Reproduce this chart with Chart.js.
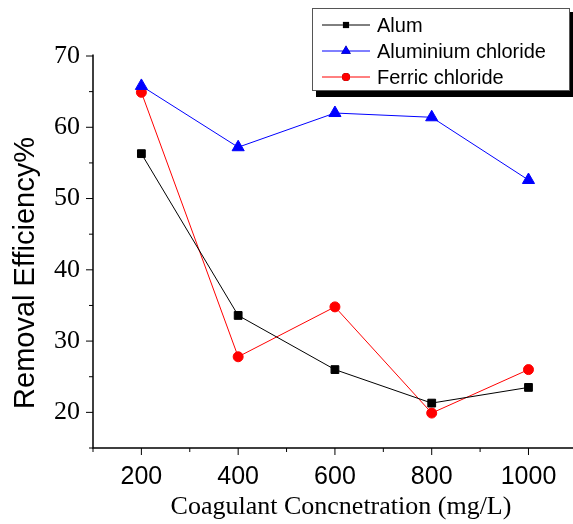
<!DOCTYPE html>
<html>
<head>
<meta charset="utf-8">
<script src="https://cdn.jsdelivr.net/npm/chart.js@4"></script>
<style>
  body { margin: 0; background: #fff; }
  #wrap { width: 573px; height: 524px; }
</style>
</head>
<body>
<div id="wrap"><canvas id="chart"></canvas></div>
<script>
// ===== DATA =====
const doses = [200, 400, 600, 800, 1000];
const alum = [56.3, 33.6, 26.0, 21.3, 23.5];
const aluminiumChloride = [65.8, 57.2, 62.0, 61.4, 52.6];
const ferricChloride = [64.9, 27.8, 34.8, 19.9, 26.0];
const xLabels = [200, 400, 600, 800, 1000];
const xMinor = [100, 300, 500, 700, 900];
const yLabels = [20, 30, 40, 50, 60, 70];
const yMinor = [15, 25, 35, 45, 55, 65];
const xTitle = 'Coagulant Concnetration (mg/L)';
const yTitle = 'Removal Efficiency%';

const pts = arr => arr.map((v, i) => ({ x: doses[i], y: v }));

// axis lines, major/minor ticks, titles and boxed legend
const axesPlugin = {
  id: 'axesTicks',
  afterDraw(chart) {
    const ctx = chart.ctx;
    const xs = chart.scales.x, ys = chart.scales.y;
    const a = chart.chartArea;
    ctx.save();
    ctx.strokeStyle = '#000';
    ctx.lineWidth = 1.5;
    ctx.beginPath();
    ctx.moveTo(a.left, ys.getPixelForValue(70.2));
    ctx.lineTo(a.left, a.bottom);
    ctx.lineTo(a.right, a.bottom);
    ctx.stroke();
    ctx.lineWidth = 1;
    ctx.beginPath();
    yLabels.forEach(v => { const p = ys.getPixelForValue(v); ctx.moveTo(a.left - 7, p); ctx.lineTo(a.left, p); });
    yMinor.forEach(v => { const p = ys.getPixelForValue(v); ctx.moveTo(a.left - 4, p); ctx.lineTo(a.left, p); });
    xLabels.forEach(v => { const p = xs.getPixelForValue(v); ctx.moveTo(p, a.bottom); ctx.lineTo(p, a.bottom + 7); });
    xMinor.forEach(v => { const p = xs.getPixelForValue(v); ctx.moveTo(p, a.bottom); ctx.lineTo(p, a.bottom + 4); });
    ctx.stroke();

    // titles
    ctx.fillStyle = '#000';
    ctx.textAlign = 'center';
    ctx.textBaseline = 'middle';
    ctx.font = '26px "Liberation Serif", "Times New Roman", serif';
    ctx.fillText(xTitle, 341, 507);
    ctx.save();
    ctx.translate(26, 273);
    ctx.rotate(-Math.PI / 2);
    ctx.font = '29px "Liberation Sans", Arial, sans-serif';
    ctx.fillText(yTitle, 0, 0);
    ctx.restore();

    // legend
    const bx = 312, by = 8, bw = 257, bh = 82;
    ctx.fillStyle = '#000';
    ctx.fillRect(bx + 4, by + 4, bw, bh + 3);
    ctx.fillStyle = '#fff';
    ctx.fillRect(bx, by, bw, bh);
    ctx.strokeStyle = '#555';
    ctx.lineWidth = 1;
    ctx.strokeRect(bx + 0.5, by + 0.5, bw, bh);
    ctx.font = '20px "Liberation Sans", Arial, sans-serif';
    ctx.textAlign = 'left';
    chart.data.datasets.forEach((ds, i) => {
      const y = by + 17 + i * 26;
      ctx.strokeStyle = ds.borderColor;
      ctx.lineWidth = 1;
      ctx.beginPath();
      ctx.moveTo(bx + 10, y);
      ctx.lineTo(bx + 58, y);
      ctx.stroke();
      Chart.helpers.drawPoint(ctx, { pointStyle: ds.pointStyle, radius: ds.pointRadius * 0.8, borderWidth: 0 }, bx + 34, y);
      ctx.fillStyle = ds.pointBackgroundColor;
      ctx.fill();
      ctx.fillStyle = '#000';
      ctx.fillText(ds.label, bx + 65, y + 1);
    });
    ctx.restore();
  }
};

new Chart(document.getElementById('chart'), {
  type: 'line',
  data: {
    datasets: [
      { label: 'Alum', data: pts(alum), borderColor: '#000', backgroundColor: '#000',
        pointBackgroundColor: '#000', pointStyle: 'rect', pointRadius: 5.5, borderWidth: 1 },
      { label: 'Aluminium chloride', data: pts(aluminiumChloride), borderColor: '#0000ff', backgroundColor: '#0000ff',
        pointBackgroundColor: '#0000ff', pointStyle: 'triangle', pointRadius: 7, borderWidth: 1 },
      { label: 'Ferric chloride', data: pts(ferricChloride), borderColor: '#ff0000', backgroundColor: '#ff0000',
        pointBackgroundColor: '#ff0000', pointStyle: 'circle', pointRadius: 5, borderWidth: 1 }
    ]
  },
  options: {
    responsive: true,
    maintainAspectRatio: false,
    animation: false,
    layout: { autoPadding: false, padding: { top: 56, right: 0, left: 0, bottom: 0 } },
    elements: { point: { borderWidth: 0 }, line: { tension: 0 } },
    plugins: { legend: { display: false }, tooltip: { enabled: false } },
    scales: {
      x: {
        type: 'linear', min: 100, max: 1092, bounds: 'data',
        afterBuildTicks: s => { s.ticks = xLabels.map(v => ({ value: v })); },
        afterFit: s => { s.height = 76; },
        border: { display: false },
        grid: { display: false },
        ticks: { color: '#000', padding: 6, maxRotation: 0, callback: v => String(v),
          font: { family: '"Liberation Sans", Arial, sans-serif', size: 25 } }
      },
      y: {
        min: 15, max: 70,
        afterBuildTicks: s => { s.ticks = yLabels.map(v => ({ value: v })); },
        afterFit: s => { s.width = 93; },
        border: { display: false },
        grid: { display: false },
        ticks: { color: '#000', padding: 5,
          font: { family: '"Liberation Serif", "Times New Roman", serif', size: 26 } }
      }
    }
  },
  plugins: [axesPlugin]
});
</script>
</body>
</html>
